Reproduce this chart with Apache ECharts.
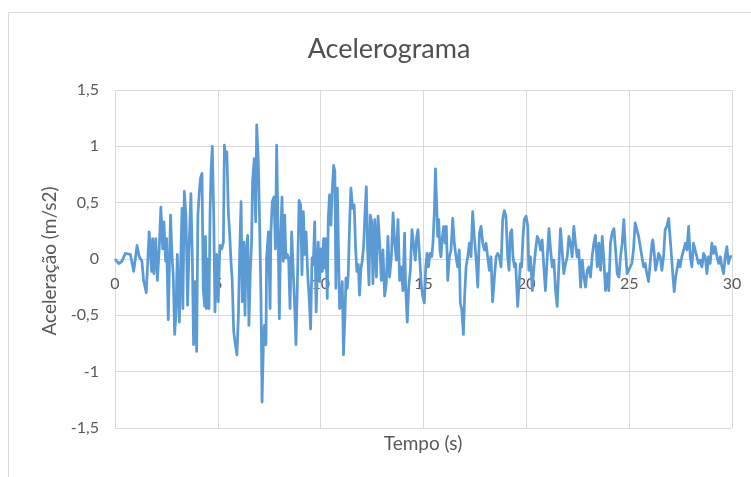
<!DOCTYPE html>
<html>
<head>
<meta charset="utf-8">
<script src="https://cdn.jsdelivr.net/npm/echarts@6/dist/echarts.min.js"></script>
<style>html,body{margin:0;padding:0;background:#fff}#c{width:751px;height:477px}</style>
</head>
<body>
<div id="c"></div>
<script>
const titleText = "Acelerograma";
const xName = "Tempo (s)";
const yName = "Aceleração (m/s2)";
const xTicks = [0, 5, 10, 15, 20, 25, 30];
const yTicks = [-1.5, -1, -0.5, 0, 0.5, 1, 1.5];

const time = [
0.00,0.18,0.34,0.50,0.75,0.91,1.07,1.18,1.31,1.39,1.52,1.66,
1.78,1.83,1.89,1.98,2.06,2.15,2.23,2.32,2.38,2.46,2.51,2.59,2.70,2.77,2.83,2.90,2.96,
3.03,3.13,3.21,3.26,3.30,3.37,3.45,3.53,3.60,3.69,3.76,3.82,3.89,3.97,
4.03,4.10,4.16,4.23,4.29,4.36,4.40,4.44,4.50,4.57,4.62,4.67,4.73,4.80,4.86,4.94,
5.02,5.10,5.19,5.27,5.32,5.38,5.44,5.51,5.57,5.64,5.70,5.77,5.83,5.93,
6.00,6.06,6.13,6.19,6.26,6.32,6.38,6.45,6.51,6.58,6.64,6.69,6.77,6.84,6.89,6.97,
7.03,7.10,7.15,7.21,7.26,7.34,7.37,7.46,7.54,7.58,7.65,7.73,7.80,7.86,7.93,7.99,
8.05,8.12,8.18,8.25,8.31,8.38,8.44,8.51,8.59,8.67,8.74,8.80,8.87,8.95,
9.03,9.09,9.16,9.22,9.29,9.37,9.45,9.51,9.58,9.64,9.71,9.78,9.88,9.95,
10.01,10.08,10.14,10.21,10.25,10.32,10.37,10.43,10.50,10.56,10.63,10.69,10.74,10.81,10.85,10.92,10.98,
11.05,11.11,11.18,11.23,11.29,11.34,11.41,11.47,11.55,11.63,11.70,11.76,11.83,11.89,11.96,
12.02,12.09,12.15,12.22,12.28,12.35,12.41,12.48,12.54,12.63,12.71,12.79,12.87,12.95,
13.03,13.11,13.19,13.27,13.35,13.44,13.52,13.60,13.68,13.76,13.84,13.92,
14.00,14.08,14.13,14.21,14.28,14.36,14.44,14.52,14.60,14.67,14.73,14.81,14.89,14.96,
15.04,15.11,15.17,15.24,15.32,15.40,15.46,15.53,15.58,15.64,15.69,15.74,15.80,15.85,15.92,15.98,
16.05,16.11,16.18,16.26,16.34,16.42,16.50,16.58,16.66,16.74,16.79,16.86,16.94,
17.00,17.07,17.15,17.23,17.31,17.39,17.47,17.55,17.64,17.72,17.80,17.88,17.96,
18.04,18.12,18.20,18.28,18.36,18.45,18.53,18.61,18.69,18.77,18.85,18.93,
19.01,19.09,19.16,19.22,19.29,19.35,19.42,19.48,19.58,19.65,19.71,19.77,19.84,19.90,19.99,
20.07,20.12,20.20,20.29,20.37,20.45,20.53,20.61,20.69,20.77,20.85,20.93,
21.01,21.10,21.18,21.26,21.34,21.42,21.50,21.58,21.66,21.74,21.82,21.91,21.99,
22.07,22.15,22.23,22.31,22.39,22.47,22.55,22.64,22.72,22.80,22.88,22.96,
23.04,23.12,23.20,23.28,23.36,23.45,23.53,23.61,23.69,23.77,23.85,23.93,
24.01,24.09,24.17,24.26,24.34,24.42,24.50,24.58,24.66,24.74,24.82,24.90,
25.13,25.21,25.29,25.38,25.46,25.54,25.62,25.70,25.78,25.86,25.94,
26.02,26.11,26.15,26.22,26.28,26.35,26.43,26.51,26.59,26.67,26.75,26.83,26.92,
27.00,27.06,27.13,27.19,27.26,27.32,27.40,27.48,27.56,27.65,27.73,27.81,27.89,27.97,
28.05,28.13,28.21,28.29,28.37,28.46,28.54,28.62,28.70,28.78,28.86,28.94,
29.02,29.10,29.18,29.27,29.35,29.43,29.51,29.59,29.67,29.75,29.83,29.91,30.00
];

const accel = [
0.00,-0.04,-0.02,0.05,0.04,-0.11,0.12,0.02,-0.02,-0.19,-0.30,0.24,
-0.11,0.18,-0.13,0.18,-0.19,0.09,0.46,0.09,0.33,-0.02,0.18,-0.54,0.39,0.04,-0.14,-0.67,-0.50,
0.04,-0.56,0.09,0.45,-0.44,0.60,0.39,-0.41,0.09,0.58,0.01,-0.76,-0.20,-0.82,
0.39,0.60,0.72,0.76,-0.26,-0.42,0.20,-0.44,0.00,-0.44,0.39,0.78,1.00,0.39,-0.47,0.04,
-0.38,0.12,0.09,0.15,1.01,0.86,0.95,0.42,0.24,-0.02,-0.20,-0.64,-0.73,-0.85,
-0.50,0.04,0.51,-0.38,0.15,-0.50,0.07,0.21,-0.59,-0.11,0.15,0.69,0.89,0.33,1.19,0.86,
0.33,-0.38,-1.27,-0.79,-0.59,-0.76,0.01,0.24,-0.44,0.24,0.51,0.55,0.09,1.01,0.24,-0.53,
0.15,0.55,-0.02,0.39,0.01,0.04,0.01,-0.44,0.24,0.24,-0.44,-0.76,-0.20,0.52,
0.48,-0.14,0.42,0.04,0.24,-0.14,-0.38,-0.62,0.01,-0.05,0.33,-0.47,0.15,-0.20,
0.09,-0.11,0.18,-0.08,0.18,-0.35,0.36,0.57,0.30,0.60,0.83,0.78,-0.26,0.63,0.24,-0.44,-0.41,
-0.20,-0.85,-0.50,-0.17,-0.26,-0.14,0.33,0.63,0.45,0.48,0.09,-0.11,-0.05,-0.32,-0.08,
-0.02,0.12,0.39,0.64,0.09,-0.23,0.39,0.33,-0.22,0.35,-0.16,0.38,0.14,-0.19,
0.08,-0.33,-0.22,0.20,-0.16,0.02,0.41,0.14,-0.01,0.35,-0.19,-0.07,
-0.28,0.23,-0.25,-0.56,-0.25,-0.10,0.26,0.26,-0.01,0.20,0.26,0.02,-0.22,-0.33,
-0.39,-0.07,0.05,-0.07,0.05,0.02,0.14,0.43,0.80,0.49,0.20,0.35,0.08,0.02,0.20,0.29,
0.14,0.29,-0.19,0.02,0.08,0.36,0.14,0.02,-0.07,0.08,-0.39,-0.45,-0.67,
-0.33,-0.07,0.02,0.14,0.02,0.42,0.20,0.02,-0.25,0.23,0.29,0.14,0.08,
0.14,0.02,-0.10,0.02,-0.38,-0.16,0.02,0.05,0.02,-0.07,0.35,0.43,
0.38,0.02,-0.10,0.23,0.26,0.02,-0.07,-0.04,-0.42,-0.22,-0.04,-0.07,0.20,0.35,0.38,
0.29,-0.10,0.02,-0.28,-0.07,0.08,0.20,0.17,0.08,0.17,-0.07,-0.28,
-0.01,0.27,0.08,-0.07,-0.01,-0.28,-0.42,-0.07,0.27,0.08,-0.13,-0.04,0.02,
0.20,0.14,0.02,0.29,0.14,0.02,0.08,-0.25,-0.01,-0.16,-0.25,-0.10,
-0.07,-0.16,0.02,0.14,0.21,-0.07,0.14,-0.10,0.20,-0.01,-0.28,-0.13,
-0.28,0.14,0.23,0.27,0.08,-0.13,-0.16,0.02,0.14,0.35,0.08,-0.13,
-0.04,0.08,0.32,0.32,0.20,0.11,0.02,-0.07,-0.04,-0.13,-0.20,
-0.04,0.14,0.17,0.05,-0.10,-0.04,0.05,0.02,-0.10,0.02,0.26,0.29,0.36,
0.17,0.02,-0.16,-0.29,-0.16,-0.10,-0.01,-0.07,0.02,0.08,0.14,0.08,0.29,0.02,
-0.07,0.14,0.08,0.02,-0.04,-0.01,-0.07,0.05,0.02,-0.13,0.02,-0.04,
0.14,0.05,0.11,0.02,-0.04,0.02,-0.07,-0.13,0.02,0.11,-0.04,0.02,0.02
];

const FONT = 'Lato, "Open Sans", sans-serif';
const TXT = '#595959';
const GRID = '#d9d9d9';

const chart = echarts.init(document.getElementById('c'));
const data = time.map((t, i) => [t, accel[i]]);

const gridTop = 90, gridBottom = 49, H = 477;
const plotH = H - gridTop - gridBottom;
const yMin = yTicks[0], yMax = yTicks[yTicks.length - 1];
// distance from the bottom edge of the plot up to the zero line (computed from the axis range)
const zeroOffset = plotH * (0 - yMin) / (yMax - yMin);

chart.setOption({
  animation: false,
  backgroundColor: '#fff',
  title: {
    text: titleText,
    left: 384,
    top: 31,
    textAlign: 'center',
    textStyle: { fontFamily: FONT, fontSize: 27, fontWeight: 'normal', color: '#505050' }
  },
  graphic: [
    { type: 'rect', shape: { x: 8.5, y: 12.5, width: 900, height: 600 },
      style: { fill: 'none', stroke: GRID, lineWidth: 1 }, z: -10 },
    { type: 'text', x: 423, y: 444,
      style: { text: xName, fontFamily: FONT, fontSize: 19, fill: TXT, align: 'center', verticalAlign: 'middle' } },
    { type: 'text', x: 50, y: 261, rotation: Math.PI / 2,
      style: { text: yName, fontFamily: FONT, fontSize: 19, fill: TXT, align: 'center', verticalAlign: 'middle' } }
  ],
  grid: { left: 115, right: 19, top: gridTop, bottom: gridBottom, containLabel: false },
  xAxis: {
    type: 'value', min: xTicks[0], max: xTicks[xTicks.length - 1], interval: 5,
    position: 'bottom',
    offset: -zeroOffset,
    axisLine: { show: true, onZero: false, lineStyle: { color: GRID, width: 1 } },
    axisTick: { show: false },
    axisLabel: { fontFamily: FONT, fontSize: 16, color: TXT, margin: 17 },
    splitLine: { show: true, lineStyle: { color: GRID, width: 1 } }
  },
  yAxis: {
    type: 'value', min: yMin, max: yMax, interval: 0.5,
    axisLine: { show: false },
    axisTick: { show: false },
    axisLabel: { fontFamily: FONT, fontSize: 16, color: TXT, margin: 16,
      formatter: v => String(v).replace('.', ',') },
    splitLine: { show: true, lineStyle: { color: GRID, width: 1 } }
  },
  series: [{
    type: 'line', data: data, showSymbol: false, symbol: 'none',
    lineStyle: { color: '#5b9bd5', width: 2.75, join: 'round' }
  }]
});
</script>
</body>
</html>
